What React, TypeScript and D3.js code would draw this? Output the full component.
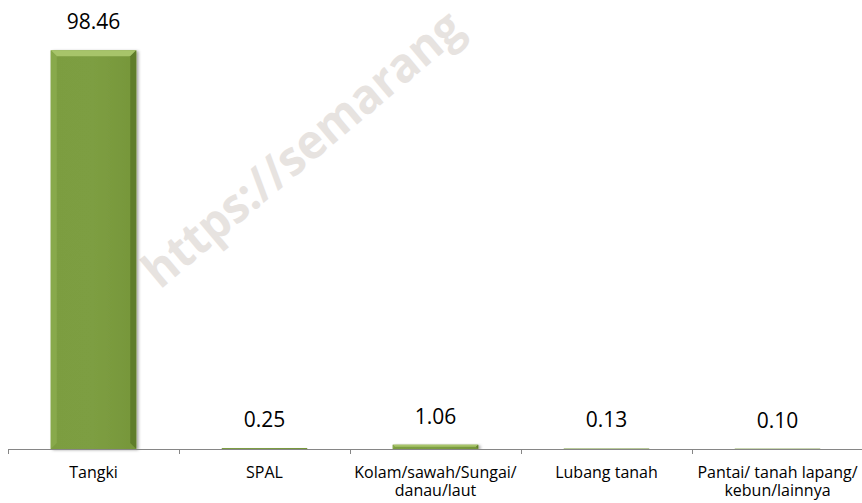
import React from "react";
import * as d3 from "d3";

// data
const categories = ["Tangki", "SPAL", "Kolam", "Lubang tanah", "Pantai"];
const categoryLines = [
  ["Tangki"],
  ["SPAL"],
  ["Kolam/sawah/Sungai/", "danau/laut"],
  ["Lubang tanah"],
  ["Pantai/ tanah lapang/", "kebun/lainnya"],
];
const values = [98.46, 0.25, 1.06, 0.13, 0.1];
const valueLabels = ["98.46", "0.25", "1.06", "0.13", "0.10"];

const W = 862;
const H = 503;
const axisY = 449;
const font = "'Open Sans', sans-serif";

export default function App() {
  const x = d3
    .scaleBand<string>()
    .domain(categories)
    .range([8, 863])
    .paddingInner(0.5)
    .paddingOuter(0.25);
  const y = d3.scaleLinear().domain([0, 100]).range([axisY, 44]);
  const step = x.step();
  const x0 = x.range()[0];
  const tickXs = d3.range(categories.length + 1).map((i) => x0 + i * step);

  const bevel = 6;

  return (
    <svg
      width={W}
      height={H}
      style={{ position: "absolute", left: 0, top: 0, background: "#fff" }}
    >
      <defs>
        <filter id="shadow" x="-20%" y="-20%" width="140%" height="140%">
          <feDropShadow dx="2" dy="1" stdDeviation="1.5" floodColor="#000" floodOpacity="0.35" />
        </filter>
        <linearGradient id="faceGrad" x1="0" x2="1" y1="0" y2="0">
          <stop offset="0" stopColor="#7c9d41" />
          <stop offset="0.5" stopColor="#7d9e42" />
          <stop offset="1" stopColor="#769639" />
        </linearGradient>
      </defs>

      {/* watermark */}
      <text
        transform="translate(160,290) rotate(-40)"
        fontFamily={font}
        fontWeight="bold"
        fontSize={48}
        textLength={400}
        lengthAdjust="spacingAndGlyphs"
        fill="#e7e3e0"
      >
        https://semarang
      </text>

      {/* bars */}
      {values.map((v, i) => {
        const bx = x(categories[i])!;
        const bw = x.bandwidth();
        const by = y(v);
        const bh = axisY - by;
        const b = Math.min(bevel, bh / 2, bw / 2);
        return (
          <g key={i} filter={bh > 3 ? "url(#shadow)" : undefined}>
            <rect x={bx} y={by} width={bw} height={bh} fill="url(#faceGrad)" />
            {bh > 3 && (
              <>
                <polygon
                  points={`${bx},${by} ${bx + bw},${by} ${bx + bw - b},${by + b} ${bx + b},${by + b}`}
                  fill="#a7c46b"
                />
                <polygon
                  points={`${bx},${by} ${bx + b},${by + b} ${bx + b},${by + bh - b} ${bx},${by + bh}`}
                  fill="#88a94c"
                />
                <polygon
                  points={`${bx + bw},${by} ${bx + bw},${by + bh} ${bx + bw - b},${by + bh - b} ${bx + bw - b},${by + b}`}
                  fill="#5f7d2c"
                />
              </>
            )}
          </g>
        );
      })}

      {/* value labels */}
      {values.map((v, i) => (
        <text
          key={i}
          x={x(categories[i])! + x.bandwidth() / 2}
          y={y(v) - 21}
          textAnchor="middle"
          fontFamily={font}
          fontSize={21}
          fill="#000"
        >
          {valueLabels[i]}
        </text>
      ))}

      {/* axis */}
      <line x1={8} x2={W} y1={axisY + 0.5} y2={axisY + 0.5} stroke="#868686" strokeWidth={1} />
      {tickXs.map((tx, i) => (
        <line
          key={i}
          x1={Math.round(tx) + 0.5}
          x2={Math.round(tx) + 0.5}
          y1={axisY}
          y2={axisY + 5}
          stroke="#868686"
        />
      ))}

      {/* category labels */}
      {categoryLines.map((lines, i) =>
        lines.map((l, j) => (
          <text
            key={`${i}-${j}`}
            x={x(categories[i])! + x.bandwidth() / 2}
            y={478 + j * 18}
            textAnchor="middle"
            fontFamily={font}
            fontSize={16}
            fill="#000"
          >
            {l}
          </text>
        ))
      )}
    </svg>
  );
}
